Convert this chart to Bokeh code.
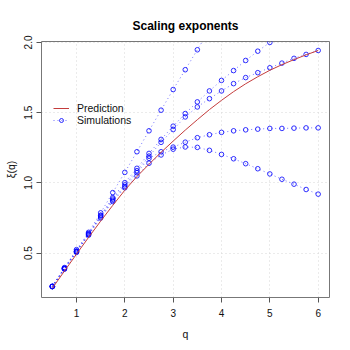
import math
from bokeh.plotting import figure
from bokeh.models import Range1d, Legend, LegendItem, FixedTicker, PrintfTickFormatter
from bokeh.embed import file_html
from bokeh.resources import INLINE

q = [0.5, 0.75, 1.0, 1.25, 1.5, 1.75, 2.0, 2.25, 2.5, 2.75, 3.0, 3.25,
     3.5, 3.75, 4.0, 4.25, 4.5, 4.75, 5.0, 5.25, 5.5, 5.75, 6.0]

prediction = [0.25, 0.372, 0.493, 0.612, 0.728, 0.84, 0.948, 1.045, 1.133, 1.218,
              1.298, 1.376, 1.45, 1.522, 1.588, 1.65, 1.706, 1.756, 1.802, 1.842,
              1.878, 1.912, 1.943]

sim_a = [0.265, 0.397, 0.525, 0.648, 0.787, 0.931, 1.075, 1.222, 1.371, 1.518,
         1.665, 1.806, 1.948, 2.09, 2.23]
sim_b = [0.262, 0.392, 0.515, 0.640, 0.770, 0.895, 1.002, 1.104, 1.210, 1.310,
         1.404, 1.494, 1.577, 1.655, 1.730, 1.800, 1.872, 1.938, 2.000, 2.065]
sim_c = [0.262, 0.390, 0.512, 0.636, 0.765, 0.885, 0.986, 1.087, 1.190, 1.289,
         1.380, 1.470, 1.541, 1.600, 1.655, 1.707, 1.750, 1.785, 1.820, 1.853,
         1.887, 1.915, 1.943]
sim_d = [0.262, 0.388, 0.510, 0.632, 0.757, 0.875, 0.974, 1.073, 1.175, 1.222,
         1.255, 1.290, 1.322, 1.343, 1.360, 1.371, 1.378, 1.383, 1.388, 1.388,
         1.390, 1.392, 1.392]
sim_e = [0.262, 0.386, 0.505, 0.628, 0.750, 0.867, 0.965, 1.050, 1.140, 1.199,
         1.240, 1.256, 1.253, 1.232, 1.203, 1.172, 1.137, 1.101, 1.064, 1.026,
         0.991, 0.953, 0.920]

x_ticks = [1, 2, 3, 4, 5, 6]
y_ticks = [0.5, 1.0, 1.5, 2.0]

FONT = "Liberation Sans"

p = figure(width=342, height=342, output_backend="svg", toolbar_location=None,
           x_range=Range1d(0.276, 6.234), y_range=Range1d(0.184, 2.007),
           min_border_left=41, min_border_right=13, min_border_top=41,
           min_border_bottom=44)

p.title.text = "Scaling exponents"
p.title.align = "center"
p.title.text_font = FONT
p.title.text_font_size = "12px"
p.title.text_font_style = "bold"
p.title.text_color = "#000000"
p.title.standoff = 18

p.outline_line_color = "#777777"
p.outline_line_width = 1

for ax in (p.xaxis, p.yaxis):
    ax.axis_line_color = None
    ax.major_tick_out = 5
    ax.major_tick_in = 0
    ax.minor_tick_line_color = None
    ax.major_tick_line_color = "#555555"
    ax.major_label_text_font = FONT
    ax.major_label_text_font_size = "10px"
    ax.major_label_text_color = "#111111"
    ax.axis_label_text_font = FONT
    ax.axis_label_text_font_size = "10.5px"
    ax.axis_label_text_font_style = "normal"
    ax.axis_label_text_color = "#111111"

p.xaxis.ticker = FixedTicker(ticks=x_ticks)
p.yaxis.ticker = FixedTicker(ticks=y_ticks)
p.yaxis.formatter = PrintfTickFormatter(format="%.1f")
p.yaxis.major_label_orientation = "vertical"
p.xaxis.axis_label = "q"
p.yaxis.axis_label = "ξ(q)"
p.xaxis.major_label_standoff = 6
p.xaxis.axis_label_standoff = 8
p.yaxis.major_label_standoff = 4
p.yaxis.axis_label_standoff = 5

p.xgrid.ticker = FixedTicker(ticks=x_ticks)
p.ygrid.ticker = FixedTicker(ticks=y_ticks)
for g in (p.xgrid, p.ygrid):
    g.grid_line_color = "#d6d6d6"
    g.grid_line_dash = "1 3"
    g.grid_line_width = 1

line_rs = []
scat_rs = []
for s in (sim_a, sim_b, sim_c, sim_d, sim_e):
    xs = q[:len(s)]
    lr = p.line(xs, s, line_color="blue", line_dash="1 3", line_alpha=0.55, line_width=1)
    sr = p.scatter(xs, s, marker="circle", size=4.6, fill_color=None,
                   line_color="blue", line_width=1, line_alpha=0.8)
    line_rs.append(lr)
    scat_rs.append(sr)

red = p.line(q, prediction, line_color="#c43c3c", line_width=1)

legend = Legend(items=[LegendItem(label="Prediction", renderers=[red]),
                       LegendItem(label="Simulations", renderers=[line_rs[0], scat_rs[0]])],
                location=(12, 171), border_line_color=None, background_fill_alpha=0,
                padding=0, margin=0, spacing=0, glyph_width=16, glyph_height=10,
                label_height=10, label_standoff=8, label_text_font_size="10.5px",
                label_text_font=FONT, label_text_color="#111111")
p.add_layout(legend)

open("out.html", "w").write(file_html(p, INLINE))
